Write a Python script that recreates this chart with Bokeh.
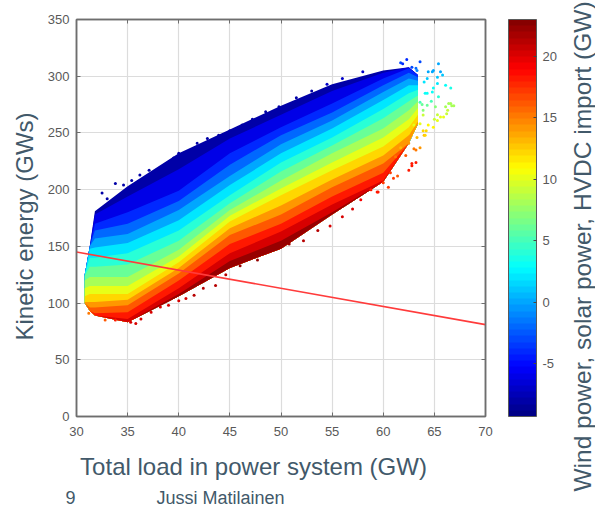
from bokeh.plotting import figure
from bokeh.models import LinearColorMapper, ColorBar, FixedTicker, LinearAxis, ColumnDataSource
from bokeh.core.properties import value
from bokeh.embed import file_html
from bokeh.resources import INLINE

X_TICKS = [30, 35, 40, 45, 50, 55, 60, 65, 70]
Y_TICKS = [0, 50, 100, 150, 200, 250, 300, 350]
CB_TICKS = [-5, 0, 5, 10, 15, 20]
CB_LOW, CB_HIGH = -9.3, 23.0

LOAD = [30.8, 31.3, 31.8, 35, 40, 45, 50, 55, 60, 62.5, 63.4]
# Kinetic energy of each contour of constant "wind+solar+HVDC" value
C_TOP = [125, 150, 181, 203, 232, 253, 274, 293, 305, 308, 301]
C_M7 =  [125, 150, 178, 194, 218, 245, 266, 287, 303, 308, 301]
C_M5 =  [125, 150, 170, 180, 199, 232, 255, 276, 298, 307, 301]
C_M3 =  [125, 150, 164, 170, 190, 222, 248, 268, 292, 303, 299]
C_M1 =  [125, 150, 157, 161, 182, 212, 240, 261, 286, 298, 296]
C_P1 =  [125, 148, 149, 153, 173, 204, 232, 254, 279, 292, 292]
C_P3 =  [125, 140, 140, 144, 164, 195, 224, 246, 271, 285, 288]
C_P5 =  [124, 132, 132, 134, 155, 188, 216, 239, 263, 278, 283]
C_P7 =  [120, 123, 123, 123, 147, 182, 208, 232, 254, 270, 278]
C_P9 =  [113, 115, 115, 115, 141, 177, 201, 224, 246, 262, 272]
C_P11 = [106, 108, 108, 108, 136, 172, 195, 217, 238, 255, 266]
C_P13 = [101, 101, 101, 103, 131, 166, 186, 209, 230, 248, 260]
C_P15 = [100, 96,  96,  98,  126, 160, 178, 202, 223, 241, 258]
C_P17 = [100, 93,  91,  92,  120, 152, 170, 194, 215, 241, 258]
C_P19 = [100, 93,  89,  86,  113, 144, 163, 187, 208, 241, 258]
C_P21 = [100, 93,  89,  83,  108, 137, 155, 180, 207, 241, 258]
C_BOT = [100, 93,  89,  83,  106, 131, 148, 178, 207, 241, 258]

BANDS = [(-8, C_TOP), (-6, C_M7), (-4, C_M5), (-2, C_M3), (0, C_M1), (2, C_P1), (4, C_P3),
         (6, C_P5), (8, C_P7), (10, C_P9), (12, C_P11), (14, C_P13), (16, C_P15), (18, C_P17),
         (20, C_P19), (22, C_P21)]

# Sparse single points along the edge of the cloud
PT_LOAD = [62.3, 61.7, 63.6, 63.2, 65.4, 64.9, 65.6, 64.4, 65.3, 66.1, 66.6, 64.9, 65.4, 64.3, 66.6, 66.9,
           66.1, 66.3, 65.3, 65.9, 65.3, 64.4, 63.6, 64.9, 64.0, 63.3, 63.6, 63.2, 62.5, 62.2, 63.2, 62.5,
           62.8, 61.0, 60.0, 59.4, 58.8, 57.0, 56.0, 57.8, 64.0, 64.7, 63.9, 65.0, 64.2, 63.8,
           32.5, 33.8, 35.4, 37.1, 38.9, 40.0, 41.8, 43.9, 46.2, 48.5, 49.8, 33.0, 34.6, 36.2, 39.5, 42.8,
           45.0, 47.2, 51.5, 53.0, 54.5, 56.0, 58.0,
           35.3, 36.3, 38.2, 40.0, 40.7, 41.5, 43.6, 47.7, 49.3, 52.2, 53.6, 59.5, 35.8, 37.3, 39.0, 42.4,
           44.6, 46.0, 50.8, 54.8, 31.2, 32.8, 33.8, 60.5, 61.4,
           62.8, 61.9, 63.3, 64.8, 65.8, 64.3, 65.3, 64.1, 64.8, 63.6, 64.3, 65.1, 66.4, 66.7, 66.2, 65.6,
           63.9, 63.0, 63.9, 62.5, 64.1, 63.0, 62.8, 61.2, 61.7, 60.7]
PT_KE = [314.8, 311.8, 312.7, 307, 311, 305, 304, 304, 299, 292, 289.5, 289.5, 282, 285, 276, 274,
         273, 270, 266, 264, 261, 257, 258, 255, 248, 246, 237, 235, 241, 230, 224, 217,
         221, 210, 206, 198, 200, 183, 176, 191, 295, 278, 270, 262, 252, 275,
         197, 205.5, 208, 217, 223, 232, 241, 248, 257, 268.6, 273, 192, 204, 213, 228, 245,
         252, 262, 281, 287, 293, 298, 304,
         83.2, 86, 96.5, 102, 104, 107, 115.6, 138, 148, 155, 164, 198, 82, 92, 98, 113,
         125, 133, 152, 168, 91, 85, 85, 202, 212,
         308, 311, 305, 304, 301, 298, 293.5, 285, 286, 277, 274.5, 273, 276, 274, 267, 264,
         265.7, 257, 252, 250, 248, 236, 223, 229, 237, 215]
PT_VAL = [-4, -3, -3, -2, 0, 0, 0, 0, 1, 3, 3.5, 3, 4, 3, 8, 8,
          8, 9, 9, 10, 10, 11, 10, 11, 13, 13, 14, 15, 14, 16, 18, 18,
          18, 17, 17, 18, 18, 20, 20, 19, 2, 5, 7, 9, 12, 6,
          -8, -8, -8, -8, -8, -8, -8, -8, -8, -8, -8, -8, -8, -8, -8, -8,
          -8, -8, -8, -8, -7, -7, -7,
          20, 20, 20, 20, 20, 21, 21, 22, 22, 21, 21, 18, 20, 20, 20, 21,
          21, 22, 22, 20, 15, 16, 18, 17, 16,
          -3, -4, -1, 0, 1, 1, 2, 3, 3, 5, 6, 7, 8, 8, 9, 10,
          9, 10, 12, 12, 12, 15, 18, 15, 13, 17]

LINE_LOAD = [30, 70]
LINE_KE = [145, 81]

TEXTS = ["Total load in power system (GW)", "Kinetic energy (GWs)",
         "Wind power, solar power, HVDC import (GW)", "9", "Jussi Matilainen"]
TEXT_PX = [253, 24, 582, 70, 220]
TEXT_PY = [466, 226, 246, 497, 497]
TEXT_SIZE = ["24px", "24px", "24.5px", "18px", "18px"]
TEXT_ANGLE = [0, 1.5708, 1.5708, 0, 0]


def jet(n=64):
    out = []
    for i in range(n):
        t = (i + 0.5) / n
        r = min(max(min(4 * t - 1.5, -4 * t + 4.5), 0), 1)
        g = min(max(min(4 * t - 0.5, -4 * t + 3.5), 0), 1)
        b = min(max(min(4 * t + 0.5, -4 * t + 2.5), 0), 1)
        out.append("#%02x%02x%02x" % (round(r * 255), round(g * 255), round(b * 255)))
    return out


PALETTE = jet()


def band_colour(v):
    k = int((v - CB_LOW) / (CB_HIGH - CB_LOW) * len(PALETTE))
    return PALETTE[max(0, min(len(PALETTE) - 1, k))]


GRAY = "#595959"
SLATE = "#42596a"
FONT = "Liberation Sans"

p = figure(width=595, height=508, x_range=(30, 70), y_range=(0, 350),
           output_backend="svg", toolbar_location=None,
           min_border_left=76, min_border_right=110, min_border_top=19, min_border_bottom=92,
           background_fill_color="white", border_fill_color=None)
p.outline_line_color = "#6e6e6e"
p.outline_line_width = 1.5

for ax, ticks, standoff in ((p.xaxis[0], X_TICKS, 10), (p.yaxis[0], Y_TICKS, 7)):
    ax.ticker = FixedTicker(ticks=ticks)
    ax.axis_line_color = "#6e6e6e"
    ax.axis_line_width = 1.5
    ax.major_tick_in = 4
    ax.major_tick_out = 0
    ax.minor_tick_line_color = None
    ax.major_tick_line_color = "#6e6e6e"
    ax.major_label_text_font = FONT
    ax.major_label_text_font_size = "13px"
    ax.major_label_text_color = GRAY
    ax.major_label_standoff = standoff

for side, ticks in (("above", X_TICKS), ("right", Y_TICKS)):
    extra = LinearAxis(ticker=FixedTicker(ticks=ticks), major_tick_in=4, major_tick_out=0,
                       minor_tick_line_color=None, major_label_text_font_size="1px",
                       major_label_text_color=None,
                       major_label_standoff=0, major_tick_line_color="#6e6e6e",
                       axis_line_color="#6e6e6e", axis_line_width=1.5)
    p.add_layout(extra, side)

p.grid.grid_line_color = "#dcdcdc"
p.grid.grid_line_width = 1.2
p.xgrid.ticker = FixedTicker(ticks=X_TICKS)
p.ygrid.ticker = FixedTicker(ticks=Y_TICKS)

mapper = LinearColorMapper(palette=PALETTE, low=CB_LOW, high=CB_HIGH)

# Paint from the top of the cloud down: each band covers everything below its upper contour
for v, upper in BANDS:
    p.varea(x=LOAD, y1=upper, y2=C_BOT, fill_color=band_colour(v))

src = ColumnDataSource(dict(x=PT_LOAD, y=PT_KE, v=PT_VAL))
p.scatter("x", "y", source=src, size=3, line_color=None,
          fill_color={"field": "v", "transform": mapper})

p.line(LINE_LOAD, LINE_KE, line_color="#ff3b3b", line_width=1.6)

cb = ColorBar(color_mapper=mapper, ticker=FixedTicker(ticks=CB_TICKS), width=28, height=397,
              location=(432, 0), padding=0, bar_line_color="#5a5a5a", bar_line_width=1,
              major_tick_in=3, major_tick_line_color="#444444", minor_tick_line_color=None,
              major_label_text_font=FONT, major_label_text_font_size="13px",
              major_label_overrides={-5: "-5"},
              major_label_text_color=GRAY, label_standoff=6,
              background_fill_color=None, border_line_color=None)
p.add_layout(cb)

# Transparent sheet over the whole window that carries the free texts (labels are clipped to a frame)
t = figure(width=595, height=508, x_range=(0, 595), y_range=(508, 0),
           output_backend="svg", toolbar_location=None, min_border=0,
           background_fill_color=None, border_fill_color=None, outline_line_color=None,
           x_axis_type=None, y_axis_type=None, margin=(-508, 0, 0, 0))
t.grid.visible = False
t.text(x=TEXT_PX, y=TEXT_PY, text=TEXTS, angle=TEXT_ANGLE, text_align="center", text_baseline="middle",
       text_font=value(FONT), text_font_size=TEXT_SIZE, text_color=SLATE)

open("out.html", "w").write(file_html([p, t], INLINE))
